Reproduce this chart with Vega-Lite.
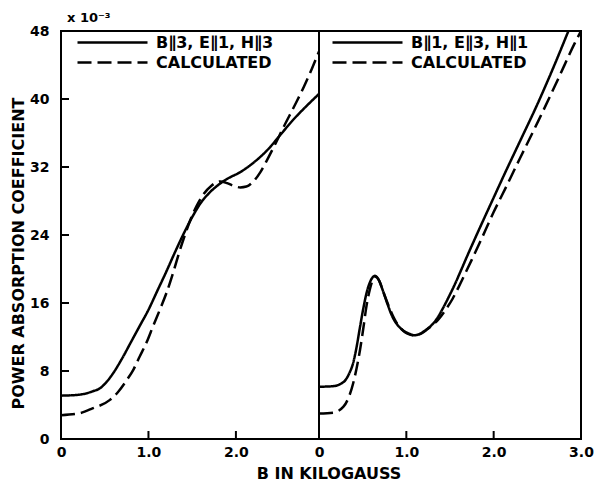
{
  "$schema": "https://vega.github.io/schema/vega-lite/v6.json",
  "padding": {"left": 9, "top": 11, "right": 2, "bottom": 0},
  "background": "white",
  "config": {
    "view": {"stroke": "black", "strokeWidth": 2},
    "font": "DejaVu Sans",
    "axis": {"domain": false, "grid": false, "ticks": false, "tickSize": 0, "labelColor": "black", "labelFont": "DejaVu Sans", "labelFontSize": 14, "labelFontWeight": "bold", "titleFont": "DejaVu Sans", "titleFontWeight": "bold", "titleColor": "black", "labelFlush": false},
    "legend": {"title": null, "orient": "none", "zindex": 2, "symbolType": "M-1,0H9", "symbolSize": 196, "symbolStrokeWidth": 2.5, "symbolStrokeColor": "black", "symbolFillColor": "transparent", "labelFontSize": 16, "labelFontWeight": "bold", "labelFont": "DejaVu Sans", "labelColor": "black", "labelOffset": 63, "rowPadding": 3, "padding": 0, "labelLimit": 300}
  },
  "bounds": "flush",
  "spacing": 0,
  "title": {"text": "B  IN  KILOGAUSS", "orient": "bottom", "anchor": "middle", "fontSize": 16, "fontWeight": "bold", "font": "DejaVu Sans", "color": "black", "offset": 6, "dx": 27},
  "resolve": {"scale": {"strokeDash": "independent", "x": "independent", "y": "independent"}, "legend": {"strokeDash": "independent"}},
  "hconcat": [
    {
      "width": 258,
      "height": 408,
      "title": {"text": "x 10⁻³", "anchor": "start", "frame": "group", "fontSize": 13, "fontWeight": "bold", "offset": -1, "dx": 6, "color": "black"},
      "layer": [
        {
          "data": {"values": [
            {"series": "B∥3, E∥1, H∥3", "B": 0, "P": 5.1},
            {"series": "B∥3, E∥1, H∥3", "B": 0.2, "P": 5.2},
            {"series": "B∥3, E∥1, H∥3", "B": 0.36, "P": 5.6},
            {"series": "B∥3, E∥1, H∥3", "B": 0.45, "P": 6.0},
            {"series": "B∥3, E∥1, H∥3", "B": 0.52, "P": 6.7},
            {"series": "B∥3, E∥1, H∥3", "B": 0.6, "P": 7.8},
            {"series": "B∥3, E∥1, H∥3", "B": 0.7, "P": 9.5},
            {"series": "B∥3, E∥1, H∥3", "B": 0.8, "P": 11.4},
            {"series": "B∥3, E∥1, H∥3", "B": 0.9, "P": 13.3},
            {"series": "B∥3, E∥1, H∥3", "B": 1.0, "P": 15.2},
            {"series": "B∥3, E∥1, H∥3", "B": 1.1, "P": 17.4},
            {"series": "B∥3, E∥1, H∥3", "B": 1.2, "P": 19.6},
            {"series": "B∥3, E∥1, H∥3", "B": 1.3, "P": 21.9},
            {"series": "B∥3, E∥1, H∥3", "B": 1.4, "P": 24.1},
            {"series": "B∥3, E∥1, H∥3", "B": 1.5, "P": 26.1},
            {"series": "B∥3, E∥1, H∥3", "B": 1.6, "P": 27.8},
            {"series": "B∥3, E∥1, H∥3", "B": 1.7, "P": 29.0},
            {"series": "B∥3, E∥1, H∥3", "B": 1.8, "P": 29.9},
            {"series": "B∥3, E∥1, H∥3", "B": 1.9, "P": 30.6},
            {"series": "B∥3, E∥1, H∥3", "B": 2.05, "P": 31.4},
            {"series": "B∥3, E∥1, H∥3", "B": 2.2, "P": 32.5},
            {"series": "B∥3, E∥1, H∥3", "B": 2.36, "P": 34.0},
            {"series": "B∥3, E∥1, H∥3", "B": 2.51, "P": 35.8},
            {"series": "B∥3, E∥1, H∥3", "B": 2.65, "P": 37.5},
            {"series": "B∥3, E∥1, H∥3", "B": 2.8, "P": 39.1},
            {"series": "B∥3, E∥1, H∥3", "B": 2.95, "P": 40.6},
            {"series": "CALCULATED", "B": 0, "P": 2.8},
            {"series": "CALCULATED", "B": 0.2, "P": 3.0},
            {"series": "CALCULATED", "B": 0.36, "P": 3.6},
            {"series": "CALCULATED", "B": 0.56, "P": 4.6},
            {"series": "CALCULATED", "B": 0.65, "P": 5.5},
            {"series": "CALCULATED", "B": 0.75, "P": 6.9},
            {"series": "CALCULATED", "B": 0.83, "P": 8.2},
            {"series": "CALCULATED", "B": 0.9, "P": 9.7},
            {"series": "CALCULATED", "B": 0.98, "P": 11.4},
            {"series": "CALCULATED", "B": 1.05, "P": 13.2},
            {"series": "CALCULATED", "B": 1.13, "P": 15.2},
            {"series": "CALCULATED", "B": 1.21, "P": 17.3},
            {"series": "CALCULATED", "B": 1.28, "P": 19.5},
            {"series": "CALCULATED", "B": 1.35, "P": 21.9},
            {"series": "CALCULATED", "B": 1.42, "P": 24.1},
            {"series": "CALCULATED", "B": 1.48, "P": 25.8},
            {"series": "CALCULATED", "B": 1.55, "P": 27.4},
            {"series": "CALCULATED", "B": 1.63, "P": 28.8},
            {"series": "CALCULATED", "B": 1.72, "P": 29.8},
            {"series": "CALCULATED", "B": 1.82, "P": 30.3},
            {"series": "CALCULATED", "B": 1.9, "P": 30.1},
            {"series": "CALCULATED", "B": 1.97, "P": 29.8},
            {"series": "CALCULATED", "B": 2.05, "P": 29.6},
            {"series": "CALCULATED", "B": 2.12, "P": 29.7},
            {"series": "CALCULATED", "B": 2.2, "P": 30.3},
            {"series": "CALCULATED", "B": 2.28, "P": 31.4},
            {"series": "CALCULATED", "B": 2.36, "P": 32.9},
            {"series": "CALCULATED", "B": 2.44, "P": 34.5},
            {"series": "CALCULATED", "B": 2.55, "P": 36.8},
            {"series": "CALCULATED", "B": 2.67, "P": 39.2},
            {"series": "CALCULATED", "B": 2.78, "P": 41.5},
            {"series": "CALCULATED", "B": 2.87, "P": 43.6},
            {"series": "CALCULATED", "B": 2.95, "P": 45.6}
          ]},
          "mark": {"type": "line", "interpolate": "monotone", "strokeWidth": 2.5, "color": "black", "clip": true},
          "encoding": {
            "x": {"field": "B", "type": "quantitative", "scale": {"domain": [0, 2.95], "nice": false, "zero": false},
                  "axis": {"values": [0, 1, 2], "labelExpr": "datum.value == 0 ? '0' : format(datum.value, '.1f')", "title": null, "labelPadding": 6}},
            "y": {"field": "P", "type": "quantitative", "scale": {"domain": [0, 48], "nice": false},
                  "axis": {"values": [0, 8, 16, 24, 32, 40, 48], "title": "POWER  ABSORPTION  COEFFICIENT", "titleFontSize": 16, "titleY": 222, "labelPadding": 12, "titlePadding": 3}},
            "strokeDash": {"field": "series", "type": "nominal",
                           "scale": {"domain": ["B∥3, E∥1, H∥3", "CALCULATED"], "range": [[1, 0], [14, 6]]},
                           "legend": {"legendX": 15, "legendY": 3}}
          }
        },
        {
          "data": {"values": [{"B": 1}, {"B": 2}]},
          "mark": {"type": "tick", "orient": "vertical", "size": 16, "thickness": 2, "color": "black", "opacity": 1, "clip": true},
          "encoding": {
            "x": {"field": "B", "type": "quantitative",
                  "axis": {"values": [0, 1, 2], "labelExpr": "datum.value == 0 ? '0' : format(datum.value, '.1f')", "title": null, "labelPadding": 6}},
            "y": {"datum": 0, "type": "quantitative",
                  "axis": {"values": [0, 8, 16, 24, 32, 40, 48], "title": "POWER  ABSORPTION  COEFFICIENT", "titleFontSize": 16, "titleY": 222, "labelPadding": 12, "titlePadding": 3}}
          }
        },
        {
          "data": {"values": [{"P": 8}, {"P": 16}, {"P": 24}, {"P": 32}, {"P": 40}]},
          "mark": {"type": "tick", "orient": "horizontal", "size": 16, "thickness": 2, "color": "black", "opacity": 1, "clip": true},
          "encoding": {
            "x": {"datum": 0, "type": "quantitative",
                  "axis": {"values": [0, 1, 2], "labelExpr": "datum.value == 0 ? '0' : format(datum.value, '.1f')", "title": null, "labelPadding": 6}},
            "y": {"field": "P", "type": "quantitative",
                  "axis": {"values": [0, 8, 16, 24, 32, 40, 48], "title": "POWER  ABSORPTION  COEFFICIENT", "titleFontSize": 16, "titleY": 222, "labelPadding": 12, "titlePadding": 3}}
          }
        }
      ]
    },
    {
      "width": 262,
      "height": 408,
      "layer": [
        {
          "data": {"values": [
            {"series": "B∥1, E∥3, H∥1", "B": 0, "P": 6.15},
            {"series": "B∥1, E∥3, H∥1", "B": 0.15, "P": 6.2},
            {"series": "B∥1, E∥3, H∥1", "B": 0.25, "P": 6.5},
            {"series": "B∥1, E∥3, H∥1", "B": 0.3, "P": 6.9},
            {"series": "B∥1, E∥3, H∥1", "B": 0.35, "P": 7.8},
            {"series": "B∥1, E∥3, H∥1", "B": 0.39, "P": 8.9},
            {"series": "B∥1, E∥3, H∥1", "B": 0.43, "P": 10.8},
            {"series": "B∥1, E∥3, H∥1", "B": 0.47, "P": 13.2},
            {"series": "B∥1, E∥3, H∥1", "B": 0.51, "P": 15.5},
            {"series": "B∥1, E∥3, H∥1", "B": 0.55, "P": 17.4},
            {"series": "B∥1, E∥3, H∥1", "B": 0.6, "P": 18.8},
            {"series": "B∥1, E∥3, H∥1", "B": 0.64, "P": 19.2},
            {"series": "B∥1, E∥3, H∥1", "B": 0.68, "P": 18.8},
            {"series": "B∥1, E∥3, H∥1", "B": 0.73, "P": 17.5},
            {"series": "B∥1, E∥3, H∥1", "B": 0.78, "P": 16.0},
            {"series": "B∥1, E∥3, H∥1", "B": 0.84, "P": 14.4},
            {"series": "B∥1, E∥3, H∥1", "B": 0.9, "P": 13.4},
            {"series": "B∥1, E∥3, H∥1", "B": 0.96, "P": 12.8},
            {"series": "B∥1, E∥3, H∥1", "B": 1.03, "P": 12.4},
            {"series": "B∥1, E∥3, H∥1", "B": 1.09, "P": 12.2},
            {"series": "B∥1, E∥3, H∥1", "B": 1.16, "P": 12.4},
            {"series": "B∥1, E∥3, H∥1", "B": 1.22, "P": 12.8},
            {"series": "B∥1, E∥3, H∥1", "B": 1.28, "P": 13.3},
            {"series": "B∥1, E∥3, H∥1", "B": 1.34, "P": 14.0},
            {"series": "B∥1, E∥3, H∥1", "B": 1.42, "P": 15.4},
            {"series": "B∥1, E∥3, H∥1", "B": 1.49, "P": 16.8},
            {"series": "B∥1, E∥3, H∥1", "B": 1.56, "P": 18.3},
            {"series": "B∥1, E∥3, H∥1", "B": 1.62, "P": 19.7},
            {"series": "B∥1, E∥3, H∥1", "B": 1.7, "P": 21.6},
            {"series": "B∥1, E∥3, H∥1", "B": 1.8, "P": 23.9},
            {"series": "B∥1, E∥3, H∥1", "B": 2.0, "P": 28.4},
            {"series": "B∥1, E∥3, H∥1", "B": 2.13, "P": 31.3},
            {"series": "B∥1, E∥3, H∥1", "B": 2.3, "P": 35.0},
            {"series": "B∥1, E∥3, H∥1", "B": 2.51, "P": 39.6},
            {"series": "B∥1, E∥3, H∥1", "B": 2.7, "P": 44.1},
            {"series": "B∥1, E∥3, H∥1", "B": 2.86, "P": 48.1},
            {"series": "B∥1, E∥3, H∥1", "B": 2.9, "P": 49.1},
            {"series": "CALCULATED", "B": 0, "P": 3.0},
            {"series": "CALCULATED", "B": 0.16, "P": 3.1},
            {"series": "CALCULATED", "B": 0.28, "P": 3.8},
            {"series": "CALCULATED", "B": 0.34, "P": 4.9},
            {"series": "CALCULATED", "B": 0.39, "P": 6.5},
            {"series": "CALCULATED", "B": 0.43, "P": 8.3},
            {"series": "CALCULATED", "B": 0.47, "P": 10.5},
            {"series": "CALCULATED", "B": 0.51, "P": 13.2},
            {"series": "CALCULATED", "B": 0.54, "P": 15.4},
            {"series": "CALCULATED", "B": 0.58, "P": 17.5},
            {"series": "CALCULATED", "B": 0.62, "P": 18.8},
            {"series": "CALCULATED", "B": 0.65, "P": 19.1},
            {"series": "CALCULATED", "B": 0.69, "P": 18.6},
            {"series": "CALCULATED", "B": 0.74, "P": 17.2},
            {"series": "CALCULATED", "B": 0.8, "P": 15.6},
            {"series": "CALCULATED", "B": 0.86, "P": 14.2},
            {"series": "CALCULATED", "B": 0.92, "P": 13.2},
            {"series": "CALCULATED", "B": 0.98, "P": 12.6},
            {"series": "CALCULATED", "B": 1.04, "P": 12.3},
            {"series": "CALCULATED", "B": 1.1, "P": 12.2},
            {"series": "CALCULATED", "B": 1.17, "P": 12.4},
            {"series": "CALCULATED", "B": 1.24, "P": 12.9},
            {"series": "CALCULATED", "B": 1.3, "P": 13.4},
            {"series": "CALCULATED", "B": 1.37, "P": 14.1},
            {"series": "CALCULATED", "B": 1.45, "P": 15.2},
            {"series": "CALCULATED", "B": 1.53, "P": 16.5},
            {"series": "CALCULATED", "B": 1.6, "P": 17.9},
            {"series": "CALCULATED", "B": 1.68, "P": 19.6},
            {"series": "CALCULATED", "B": 1.75, "P": 21.1},
            {"series": "CALCULATED", "B": 1.85, "P": 23.3},
            {"series": "CALCULATED", "B": 2.0, "P": 26.7},
            {"series": "CALCULATED", "B": 2.13, "P": 29.4},
            {"series": "CALCULATED", "B": 2.3, "P": 33.0},
            {"series": "CALCULATED", "B": 2.51, "P": 37.4},
            {"series": "CALCULATED", "B": 2.74, "P": 42.4},
            {"series": "CALCULATED", "B": 2.93, "P": 46.6},
            {"series": "CALCULATED", "B": 3.0, "P": 48.0}
          ]},
          "mark": {"type": "line", "interpolate": "monotone", "strokeWidth": 2.5, "color": "black", "clip": true},
          "encoding": {
            "x": {"field": "B", "type": "quantitative", "scale": {"domain": [0, 3], "nice": false, "zero": false},
                  "axis": {"values": [0, 1, 2, 3], "labelExpr": "datum.value == 0 ? '0' : format(datum.value, '.1f')", "title": null, "labelPadding": 6}},
            "y": {"field": "P", "type": "quantitative", "scale": {"domain": [0, 48], "nice": false}, "axis": null},
            "strokeDash": {"field": "series", "type": "nominal",
                           "scale": {"domain": ["B∥1, E∥3, H∥1", "CALCULATED"], "range": [[1, 0], [14, 6]]},
                           "legend": {"legendX": 12, "legendY": 3}}
          }
        },
        {
          "data": {"values": [{"B": 1}, {"B": 2}]},
          "mark": {"type": "tick", "orient": "vertical", "size": 16, "thickness": 2, "color": "black", "opacity": 1, "clip": true},
          "encoding": {
            "x": {"field": "B", "type": "quantitative",
                  "axis": {"values": [0, 1, 2, 3], "labelExpr": "datum.value == 0 ? '0' : format(datum.value, '.1f')", "title": null, "labelPadding": 6}},
            "y": {"datum": 0, "type": "quantitative", "axis": null}
          }
        }
      ]
    }
  ]
}
